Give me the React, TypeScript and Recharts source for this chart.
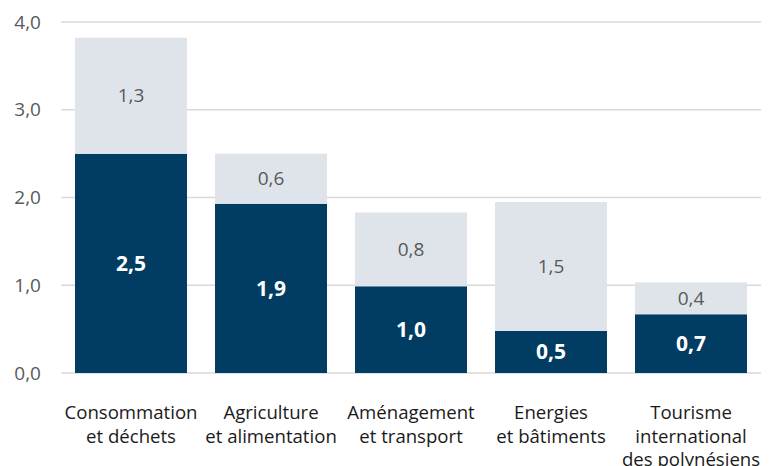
import { BarChart, Bar, XAxis, YAxis, CartesianGrid, LabelList } from "recharts";

const categories = [
  "Consommation\net déchets",
  "Agriculture\net alimentation",
  "Aménagement\net transport",
  "Energies\net bâtiments",
  "Tourisme\ninternational\ndes polynésiens",
];
const darkValues = [2.5, 1.93, 0.99, 0.48, 0.67];
const lightValues = [1.32, 0.57, 0.84, 1.47, 0.36];
const yTicks = [0, 1, 2, 3, 4];

const data = categories.map((name, i) => ({
  name,
  dark: darkValues[i],
  light: lightValues[i],
}));

const fmt = (v: any) => Number(v).toFixed(1).replace(".", ",");

const FONT = "'Open Sans', sans-serif";

const CategoryTick = ({ x, y, payload }: any) => {
  const lines = String(payload.value).split("\n");
  return (
    <g transform={`translate(${x},${y})`}>
      {lines.map((line, i) => (
        <text
          key={i}
          x={0}
          y={44 + i * 23.5}
          textAnchor="middle"
          fill="#1a1a1a"
          fontSize={18.6}
          fontFamily={FONT}
        >
          {line}
        </text>
      ))}
    </g>
  );
};

export default function App() {
  return (
    <div style={{ position: "absolute", left: 0, top: 0, background: "#fff" }}>
      <BarChart
        width={771}
        height={466}
        data={data}
        margin={{ top: 22, right: 10, left: 0, bottom: 0 }}
        barCategoryGap={14}
      >
        <CartesianGrid vertical={false} stroke="#d9d9d9" strokeWidth={1.5} />
        <XAxis
          dataKey="name"
          height={93}
          axisLine={false}
          tickLine={false}
          tickSize={0}
          interval={0}
          tick={<CategoryTick />}
        />
        <YAxis
          width={61}
          domain={[0, 4]}
          ticks={yTicks}
          tickFormatter={fmt}
          axisLine={false}
          tickLine={false}
          tickSize={0}
          tickMargin={20}
          tick={{ fill: "#595959", fontSize: 19, fontFamily: FONT }}
        />
        <Bar dataKey="dark" stackId="a" fill="#013c63" isAnimationActive={false}>
          <LabelList
            dataKey="dark"
            position="center"
            formatter={fmt}
            fill="#ffffff"
            fontSize={21}
            fontWeight="bold"
            fontFamily={FONT}
          />
        </Bar>
        <Bar dataKey="light" stackId="a" fill="#dfe4eb" isAnimationActive={false}>
          <LabelList
            dataKey="light"
            position="center"
            formatter={fmt}
            fill="#595959"
            fontSize={19}
            fontFamily={FONT}
          />
        </Bar>
      </BarChart>
    </div>
  );
}
